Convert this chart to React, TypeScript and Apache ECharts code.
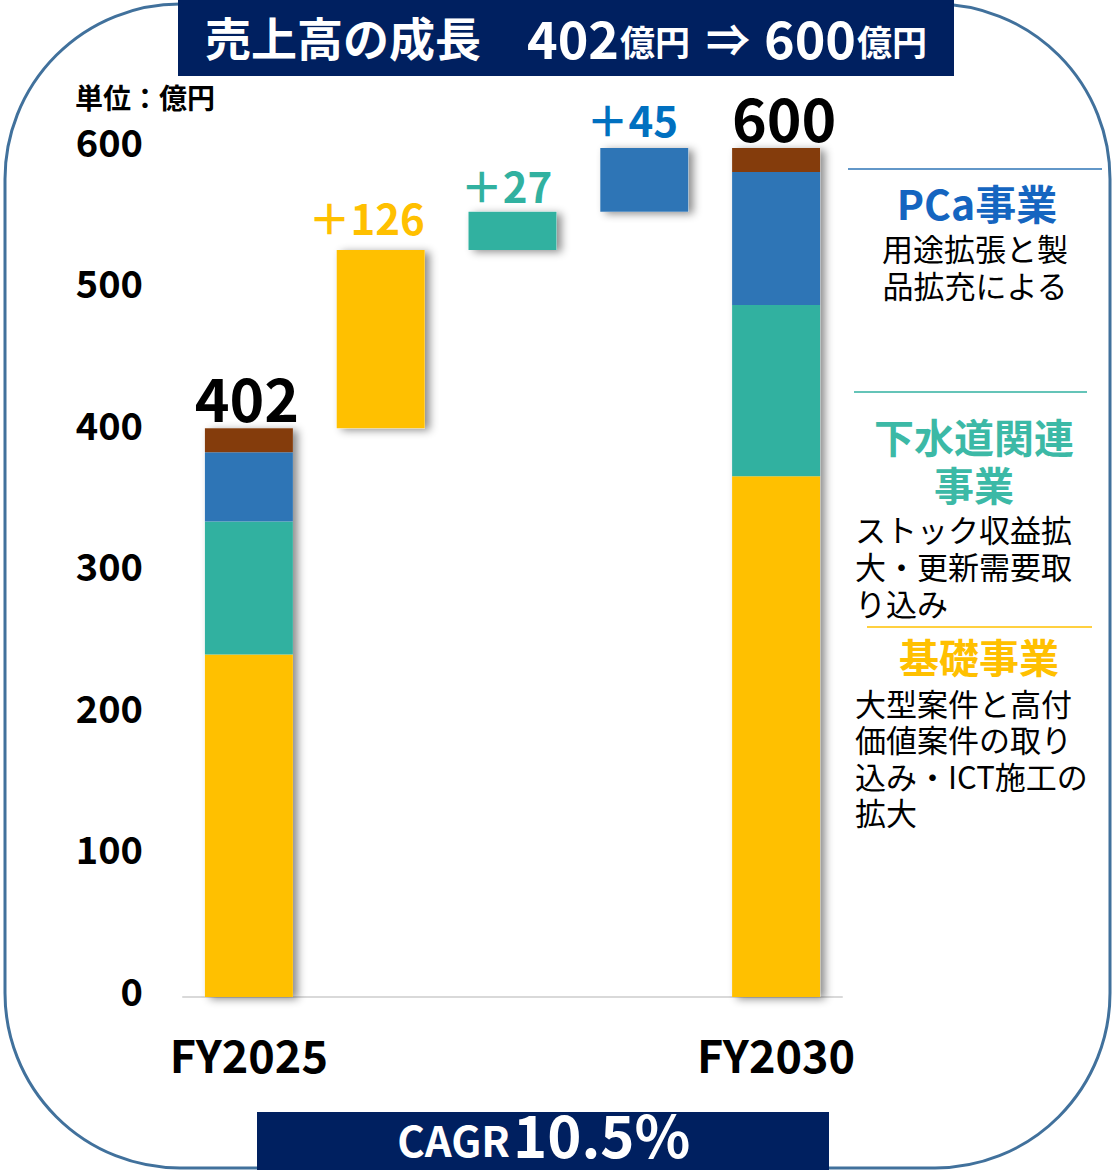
import React, { useEffect, useRef } from "react";
import * as echarts from "echarts";

// ---- data ----
const categories = ["FY2025", "", "", "", "FY2030"];
const segmentNames = ["基礎事業", "下水道関連事業", "PCa事業", "その他"];
const fy2025Values = [242, 94, 49, 17]; // yellow, teal, blue, brown
const increments = [126, 27, 45]; // 基礎, 下水道, PCa
const fy2030Values = [368, 121, 94, 17];
const yTicks = [0, 100, 200, 300, 400, 500, 600];

const FONT = '"Noto Sans CJK JP", "Noto Sans", sans-serif';
const COLORS = ["#FFC000", "#31B1A0", "#2E75B6", "#843C0C"];
const INC_LABEL_COLORS = ["#FFC000", "#31B1A0", "#0070C0"];

export default function App() {
  const ref = useRef<HTMLDivElement>(null);

  useEffect(() => {
    document.body.style.margin = "0";
    if (!ref.current) return;
    const chart = echarts.init(ref.current, null, { renderer: "svg" });

    const total2025 = fy2025Values.reduce((a, b) => a + b, 0);
    const total2030 = fy2030Values.reduce((a, b) => a + b, 0);
    // floating bases for the waterfall steps
    const bases: (number | string)[] = ["-"];
    let run = total2025;
    increments.forEach((v) => {
      bases.push(run);
      run += v;
    });
    bases.push("-");

    const totals = [total2025, ...increments, total2030];
    const incOffsets = [-14, -6, -12];
    const incDist = [12, 6, 9];
    const totalOffsets = [-2, 8];

    const shadowData = totals.map((v, i) => {
      const isTotal = i === 0 || i === 4;
      return {
        value: v,
        label: {
          show: true,
          position: "top",
          distance: isTotal ? 2 : incDist[i - 1],
          offset: isTotal ? [totalOffsets[i === 0 ? 0 : 1], 0] : [incOffsets[i - 1], 0],
          formatter: isTotal ? String(v) : "＋" + v,
          fontFamily: FONT,
          fontWeight: "bold",
          fontSize: isTotal ? 59 : 42,
          color: isTotal ? "#000" : INC_LABEL_COLORS[i - 1],
        },
      };
    });

    const segSeries = segmentNames.map((name, s) => {
      const data = categories.map((_, i) => {
        if (i === 0) return fy2025Values[s];
        if (i === 4) return fy2030Values[s];
        return i - 1 === s ? increments[s] : "-";
      });
      return {
        name,
        type: "bar",
        stack: "main",
        barWidth: 88,
        barGap: "-100%",
        itemStyle: { color: COLORS[s] },
        data,
        z: 3,
        silent: true,
      };
    });

    const option: any = {
      animation: false,
      grid: { left: 183, right: 271, top: 148, bottom: 178, containLabel: false },
      xAxis: {
        type: "category",
        data: categories,
        axisTick: { show: false },
        axisLine: { lineStyle: { color: "#D9D9D9", width: 2 } },
        axisLabel: {
          margin: 34,
          fontFamily: FONT,
          fontWeight: "bold",
          fontSize: 45,
          color: "#000",
        },
      },
      yAxis: {
        type: "value",
        min: yTicks[0],
        max: yTicks[yTicks.length - 1],
        interval: 100,
        splitLine: { show: false },
        axisLine: { show: false },
        axisTick: { show: false },
        axisLabel: {
          margin: 40,
          fontFamily: FONT,
          fontWeight: "bold",
          fontSize: 38,
          color: "#000",
          verticalAlign: "bottom",
          lineHeight: 16,
        },
      },
      series: [
        {
          type: "bar",
          stack: "shadow",
          barWidth: 88,
          barGap: "-100%",
          itemStyle: { color: "rgba(0,0,0,0)" },
          data: bases,
          silent: true,
          z: 1,
        },
        {
          type: "bar",
          stack: "shadow",
          barWidth: 88,
          barGap: "-100%",
          itemStyle: {
            color: "#ffffff",
            shadowBlur: 8,
            shadowColor: "rgba(0,0,0,0.45)",
            shadowOffsetX: 5,
            shadowOffsetY: 2,
          },
          data: shadowData,
          silent: true,
          z: 1,
        },
        {
          type: "bar",
          stack: "main",
          barWidth: 88,
          barGap: "-100%",
          itemStyle: { color: "rgba(0,0,0,0)" },
          data: bases,
          silent: true,
          z: 3,
        },
        ...segSeries,
      ],
      graphic: [
        {
          type: "rect",
          z: 0,
          shape: { x: 5, y: 4, width: 1105, height: 1164, r: 175 },
          style: { fill: "none", stroke: "#41719C", lineWidth: 3 },
        },
        {
          type: "rect",
          z: 10,
          shape: { x: 178, y: 0, width: 776, height: 76 },
          style: { fill: "#002060" },
        },
        {
          type: "text",
          z: 11,
          x: 205,
          y: 36,
          style: { text: "売上高の成長", font: `bold 46px ${FONT}`, fill: "#fff", textAlign: "left", textVerticalAlign: "middle" },
        },
        {
          type: "text",
          z: 11,
          x: 527,
          y: 36,
          style: { text: "402", font: `bold 52px ${FONT}`, fill: "#fff", textAlign: "left", textVerticalAlign: "middle" },
        },
        {
          type: "text",
          z: 11,
          x: 620,
          y: 40,
          style: { text: "億円", font: `bold 35px ${FONT}`, fill: "#fff", textAlign: "left", textVerticalAlign: "middle" },
        },
        {
          type: "text",
          z: 11,
          x: 728,
          y: 38,
          style: { text: "⇒", font: `bold 44px ${FONT}`, fill: "#fff", textAlign: "center", textVerticalAlign: "middle" },
        },
        {
          type: "text",
          z: 11,
          x: 764,
          y: 36,
          style: { text: "600", font: `bold 52px ${FONT}`, fill: "#fff", textAlign: "left", textVerticalAlign: "middle" },
        },
        {
          type: "text",
          z: 11,
          x: 857,
          y: 40,
          style: { text: "億円", font: `bold 35px ${FONT}`, fill: "#fff", textAlign: "left", textVerticalAlign: "middle" },
        },
        {
          type: "text",
          z: 11,
          x: 75,
          y: 97,
          style: { text: "単位：億円", font: `bold 28px ${FONT}`, fill: "#000", textAlign: "left", textVerticalAlign: "middle" },
        },
        // right side notes
        {
          type: "line",
          z: 5,
          shape: { x1: 848, y1: 169, x2: 1102, y2: 169 },
          style: { stroke: "#2E75B6", lineWidth: 1.5 },
        },
        {
          type: "text",
          z: 5,
          x: 977,
          y: 202,
          style: { text: "PCa事業", font: `bold 41px ${FONT}`, fill: "#1565C0", textAlign: "center", textVerticalAlign: "middle" },
        },
        {
          type: "text",
          z: 5,
          x: 975,
          y: 229,
          style: {
            text: "用途拡張と製\n品拡充による",
            font: `31px ${FONT}`,
            lineHeight: 37,
            fill: "#000",
            textAlign: "center",
            textVerticalAlign: "top",
          },
        },
        {
          type: "line",
          z: 5,
          shape: { x1: 854, y1: 392, x2: 1087, y2: 392 },
          style: { stroke: "#31B1A0", lineWidth: 1.5 },
        },
        {
          type: "text",
          z: 5,
          x: 974,
          y: 412,
          style: {
            text: "下水道関連\n事業",
            font: `bold 40px ${FONT}`,
            lineHeight: 48,
            fill: "#3CB9A6",
            textAlign: "center",
            textVerticalAlign: "top",
          },
        },
        {
          type: "text",
          z: 5,
          x: 855,
          y: 510,
          style: {
            text: "ストック収益拡\n大・更新需要取\nり込み",
            font: `31px ${FONT}`,
            lineHeight: 37,
            fill: "#000",
            textAlign: "left",
            textVerticalAlign: "top",
          },
        },
        {
          type: "line",
          z: 5,
          shape: { x1: 867, y1: 627, x2: 1092, y2: 627 },
          style: { stroke: "#FFC000", lineWidth: 1.5 },
        },
        {
          type: "text",
          z: 5,
          x: 979,
          y: 656,
          style: { text: "基礎事業", font: `bold 40px ${FONT}`, fill: "#FFC000", textAlign: "center", textVerticalAlign: "middle" },
        },
        {
          type: "text",
          z: 5,
          x: 855,
          y: 684,
          style: {
            text: "大型案件と高付\n価値案件の取り\n込み・ICT施工の\n拡大",
            font: `31px ${FONT}`,
            lineHeight: 36.5,
            fill: "#000",
            textAlign: "left",
            textVerticalAlign: "top",
          },
        },
        // CAGR box
        {
          type: "rect",
          z: 10,
          shape: { x: 257, y: 1112, width: 572, height: 58 },
          style: { fill: "#002060" },
        },
        {
          type: "text",
          z: 11,
          x: 510,
          y: 1138,
          style: { text: "CAGR", font: `bold 42px ${FONT}`, fill: "#fff", textAlign: "right", textVerticalAlign: "middle" },
        },
        {
          type: "text",
          z: 11,
          x: 513,
          y: 1133,
          style: { text: "10.5%", font: `bold 58px ${FONT}`, fill: "#fff", textAlign: "left", textVerticalAlign: "middle" },
        },
      ],
    };

    chart.setOption(option);
    return () => chart.dispose();
  }, []);

  return <div ref={ref} style={{ width: 1113, height: 1175 }} />;
}
